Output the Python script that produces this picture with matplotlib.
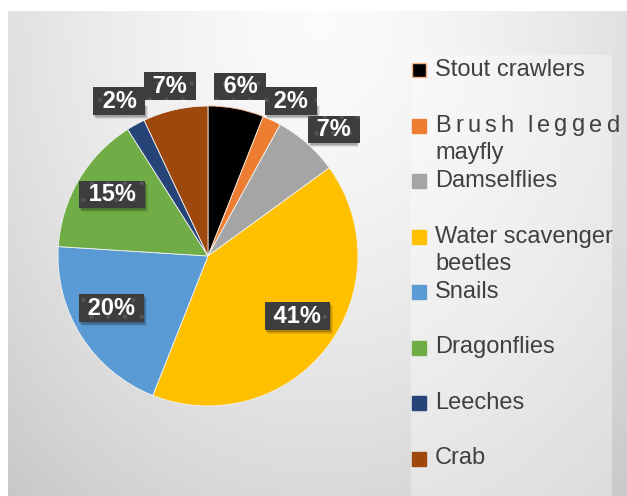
import matplotlib.pyplot as plt
from matplotlib.patches import Rectangle
import numpy as np

# share of each invertebrate group (percent)
categories = ['Stout crawlers', 'Brush legged mayfly', 'Damselflies',
              'Water scavenger beetles', 'Snails', 'Dragonflies',
              'Leeches', 'Crab']
percent = [6, 2, 7, 41, 20, 15, 2, 7]
colors = ['#000000', '#ED7D31', '#A5A5A5', '#FFC000',
          '#5B9BD5', '#70AD47', '#264478', '#9E480E']
# legend text as it wraps in the side box
legend_lines = [['Stout crawlers'], ['Brush legged', 'mayfly'],
                ['Damselflies'], ['Water scavenger', 'beetles'], ['Snails'],
                ['Dragonflies'], ['Leeches'], ['Crab']]
justified = {(1, 0)}   # lines stretched to the full box width

W, H = 627, 496
fig = plt.figure(figsize=(W / 100, H / 100), dpi=100)
plt.rcParams['hatch.linewidth'] = 0.8

# grey backdrop, lighter towards the top middle
bg = fig.add_axes([0, 0, 1, 1])
bg.set_xlim(0, W)
bg.set_ylim(H, 0)
bg.axis('off')
yy, xx = np.mgrid[0:H, 0:W]
d = np.hypot((xx - 320) / 430.0, (yy - 20) / 560.0)
shade = np.clip(0.985 - 0.17 * d ** 1.5, 0.78, 1)
img = np.dstack([shade] * 3)
img[:11, :] = 1
img[:, :8] = 1
bg.imshow(img, extent=(0, W, H, 0), aspect='auto', interpolation='bilinear')
bg.add_patch(Rectangle((411, 55), 201, H - 55, facecolor='white',
                       alpha=0.35, lw=0))

renderer = fig.canvas.get_renderer()
leg_font = dict(fontsize=17, color='#404040', family='Liberation Sans',
                va='center', ha='left')


def spread_text(x0, x1, y, s):
    # place characters one by one so the line fills x0..x1
    chars = [bg.text(0, y, ch, **leg_font) for ch in s]
    widths = []
    for ch, t in zip(s, chars):
        if ch == ' ':
            widths.append(5.0)
        else:
            widths.append(t.get_window_extent(renderer).width)
    gap = (x1 - x0 - sum(widths)) / (len(s) - 1)
    x = x0
    for t, w in zip(chars, widths):
        t.set_x(x)
        x += w + gap


# legend
row_y0, row_step, line_step = 70, 55.5, 27
for i, (lines, c) in enumerate(zip(legend_lines, colors)):
    y = row_y0 + i * row_step
    ec = '#F4B183' if i == 0 else c
    bg.add_patch(Rectangle((412, y - 7), 14, 14, facecolor=c, edgecolor=ec, lw=1))
    for j, t in enumerate(lines):
        if (i, j) in justified:
            spread_text(435, 620, y + j * line_step, t)
        else:
            bg.text(435, y + j * line_step, t, **leg_font)

# pie
ax = fig.add_axes([58 / W, (H - 406) / H, 300 / W, 300 / H])
wedges, _ = ax.pie(percent, colors=colors, startangle=90, counterclock=False,
                   radius=1, wedgeprops=dict(linewidth=0.6, edgecolor='#f2f2f2'))
wedges[0].set_edgecolor('#F4B183')
ax.set_xlim(-1, 1)
ax.set_ylim(-1, 1)
ax.axis('off')

# data labels: small slices outside the rim, large ones inside
label_r = [1.15, 1.17, 1.19, 0.72, 0.73, 0.76, 1.19, 1.16]
label_turn = [0, -3, -3.5, 4, -4, -2, 1, 0]
labels = []
for w, p, r, dt in zip(wedges, percent, label_r, label_turn):
    a = np.deg2rad((w.theta1 + w.theta2) / 2 + dt)
    t = ax.text(r * np.cos(a), r * np.sin(a), ' %d%% ' % p, color='white',
                ha='center', va='center', fontsize=17, fontweight='bold',
                family='Liberation Sans', zorder=5,
                bbox=dict(boxstyle='square,pad=0.1', facecolor='#3d3d3d',
                          edgecolor='#555555', linewidth=0, hatch='.'))
    labels.append(t)

# drop shadows under the label boxes
fig.canvas.draw()
for t in labels:
    bb = t.get_bbox_patch().get_window_extent(renderer)
    for k, al in [(4, 0.08), (3, 0.12), (2, 0.16)]:
        ax.add_patch(Rectangle((bb.x0 + k - 1, bb.y0 - k), bb.width, bb.height,
                               transform=None, facecolor='black', alpha=al,
                               lw=0, zorder=4))

fig.savefig('out.png', dpi=100)
